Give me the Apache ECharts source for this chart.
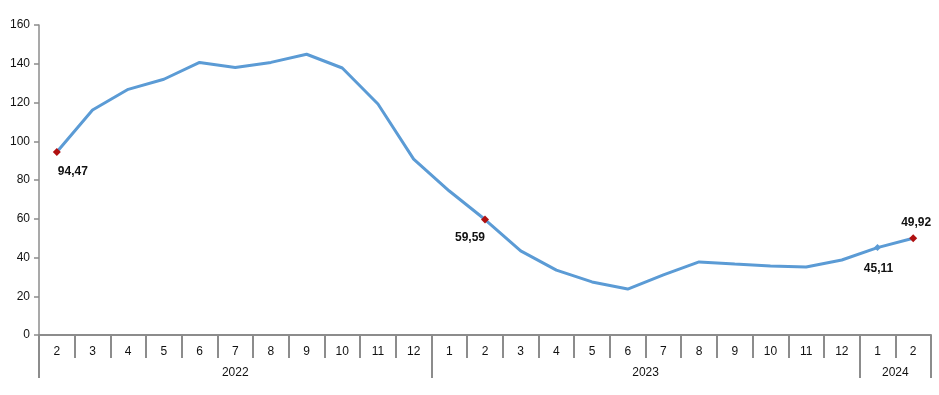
<!DOCTYPE html>
<html>
<head>
<meta charset="utf-8">
<script src="https://cdn.jsdelivr.net/npm/echarts@6/dist/echarts.min.js"></script>
<style>html,body{margin:0;padding:0;background:#fff}#c{width:939px;height:395px}</style>
</head>
<body>
<div id="c"></div>
<script>
var months = ['2','3','4','5','6','7','8','9','10','11','12','1','2','3','4','5','6','7','8','9','10','11','12','1','2'];
var values = [94.47,116.1,126.8,132.0,140.7,138.1,140.7,144.9,137.8,119.2,90.8,74.3,59.59,43.4,33.5,27.4,23.7,31.0,37.7,36.6,35.6,35.1,38.7,45.11,49.92];
var years = ['2022','2023','2024'];
var yearCounts = [11,12,2];
var yTicks = [0,20,40,60,80,100,120,140,160];
var highlighted = {0:'red',12:'red',23:'blue',24:'red'};
var labelPos = {0:['bottom',[16,5]],12:['bottom',[-15,3]],23:['bottom',[1,7]],24:['top',[3,-1]]};

var boundaries = [0], centers = [], acc = 0;
yearCounts.forEach(function(n){ centers.push(acc + n/2); acc += n; boundaries.push(acc); });

var seriesData = values.map(function(v,i){
  var item = {value: v};
  if (highlighted[i]) {
    var red = highlighted[i] === 'red';
    item.symbol = 'diamond';
    item.symbolSize = red ? 8 : 7;
    item.itemStyle = {color: red ? '#B01010' : '#5B9BD5'};
    item.label = {show: true, position: labelPos[i][0], offset: labelPos[i][1],
      formatter: v.toFixed(2).replace('.', ','), fontWeight: 'bold', fontSize: 12,
      fontFamily: 'Liberation Sans, Arial, sans-serif', color: '#111'};
  }
  return item;
});

var chart = echarts.init(document.getElementById('c'));
chart.setOption({
  animation: false,
  grid: {left: 39, right: 8, top: 25, bottom: 60, containLabel: false},
  xAxis: [{
    type: 'category', data: months, boundaryGap: true, position: 'bottom',
    axisLine: {lineStyle: {color: '#8c8c8c', width: 2}},
    axisTick: {show: true, alignWithLabel: false, length: 23, lineStyle: {color: '#8c8c8c', width: 2}},
    axisLabel: {interval: 0, margin: 11, fontSize: 12, color: '#111', fontFamily: 'Liberation Sans, Arial, sans-serif'},
    splitLine: {show: false}
  }, {
    type: 'value', min: 0, max: months.length, position: 'bottom',
    axisLine: {show: false},
    axisTick: {show: true, customValues: boundaries, length: 43, lineStyle: {color: '#8c8c8c', width: 2}},
    axisLabel: {show: true, customValues: centers, margin: 32, fontSize: 12, color: '#111',
      fontFamily: 'Liberation Sans, Arial, sans-serif',
      formatter: function(v){ var k = centers.indexOf(v); return k >= 0 ? years[k] : ''; }},
    splitLine: {show: false}
  }],
  yAxis: {
    type: 'value', min: 0, max: 160, interval: 20,
    axisLine: {show: true, lineStyle: {color: '#8c8c8c', width: 1.5}},
    axisTick: {show: true, length: 5, lineStyle: {color: '#8c8c8c', width: 1.5}},
    axisLabel: {margin: 9, fontSize: 12, color: '#111', fontFamily: 'Liberation Sans, Arial, sans-serif',
      customValues: yTicks},
    splitLine: {show: false}
  },
  series: [{
    type: 'line', xAxisIndex: 0, data: seriesData, symbol: 'none', showSymbol: true,
    lineStyle: {color: '#5B9BD5', width: 3}, itemStyle: {color: '#5B9BD5'},
    label: {show: false}, emphasis: {disabled: true}, z: 3
  }]
});
</script>
</body>
</html>
